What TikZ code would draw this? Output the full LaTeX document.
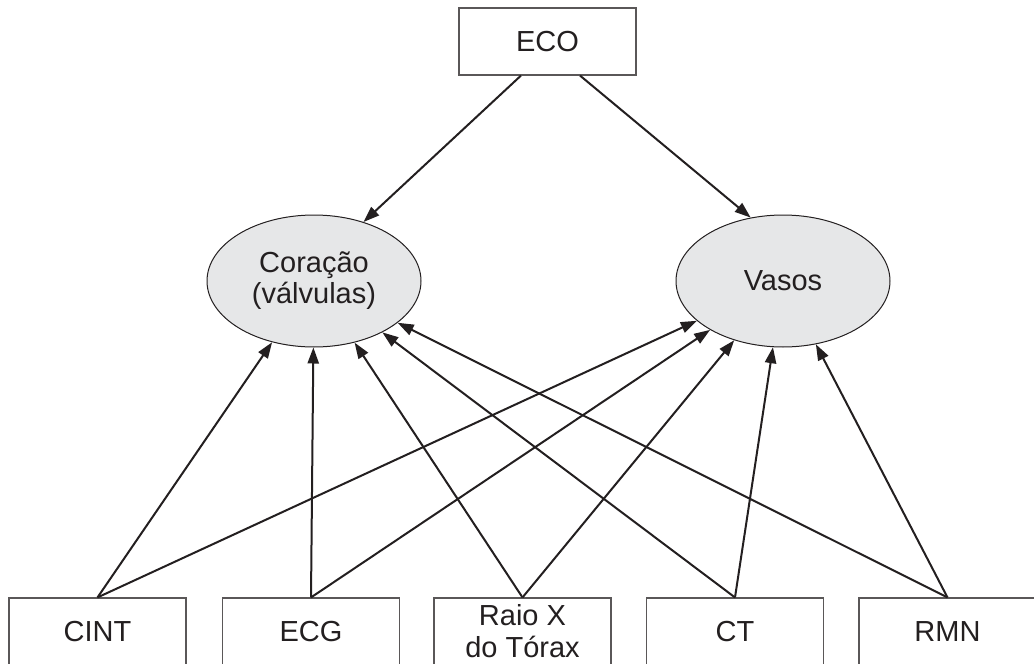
\documentclass[tikz,border=0pt]{standalone}
\usepackage{fontspec}
\setmainfont{Liberation Sans}
\usetikzlibrary{shapes.geometric,arrows.meta,calc}
\definecolor{ovalfill}{RGB}{230,231,232}
\definecolor{ink}{RGB}{35,31,32}
\begin{document}
\begin{tikzpicture}[x=0.5pt,y=-0.5pt,
  box/.style={draw=ink!75, line width=0.55pt, minimum width=88.5pt,
    minimum height=33.5pt, inner sep=0pt, align=center,
    font=\fontsize{14.5}{16}\selectfont, text=ink},
  organ/.style={ellipse, draw=ink, line width=0.5pt, fill=ovalfill,
    minimum width=107pt, minimum height=66pt, inner sep=0pt, align=center,
    font=\fontsize{14.5}{15.5}\selectfont, text=ink},
  link/.style={draw=ink, line width=1pt, -{Triangle[length=8pt,width=5.6pt]}}]

\useasboundingbox (0,0) rectangle (1034,664);

% exam at the top
\node[box] (eco) at (547.5,41.5) {ECO};

% examined structures
\node[organ] (cor) at (314,281) {Coração\\(válvulas)};
\node[organ] (vas) at (783,281) {Vasos};

% exams along the bottom
\node[box] (cint) at (97.5,631.5) {CINT};
\node[box] (ecg)  at (311,631.5)  {ECG};
\node[box] (rx)   at (522.5,631.5) {Raio X\\do Tórax};
\node[box] (ct)   at (735,631.5)  {CT};
\node[box] (rmn)  at (947.5,631.5) {RMN};

% connectors
\draw[link] ($(eco.south)+(-26.5,0)$) -- (cor.50);
\draw[link] ($(eco.south)+(32.5,0)$) -- (vas.117);
\foreach \s in {cint,ecg,rx,ct,rmn} {
  \draw[link] (\s.north) -- (cor);
  \draw[link] (\s.north) -- (vas);
}
\end{tikzpicture}
\end{document}
